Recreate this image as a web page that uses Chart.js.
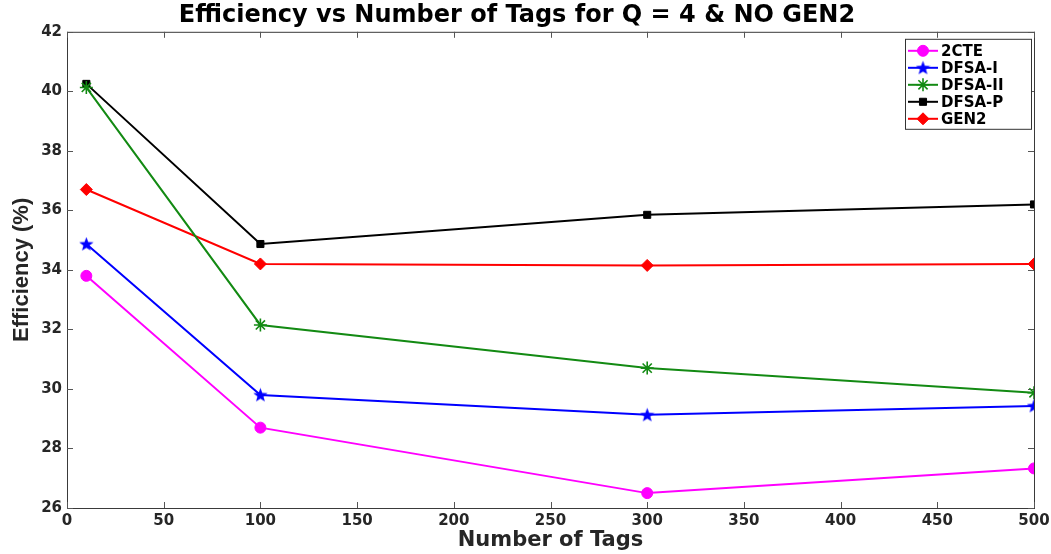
<!DOCTYPE html>
<html>
<head>
<meta charset="utf-8">
<script src="https://cdn.jsdelivr.net/npm/chart.js@4.4.1/dist/chart.umd.min.js"></script>
<style>
  html, body { margin: 0; padding: 0; background: #fff; }
  #wrap { width: 1051px; height: 554px; }
</style>
</head>
<body>
<div id="wrap"><canvas id="c"></canvas></div>
<script>
// data
const tags = [10, 100, 300, 500];
const eff2CTE   = [33.8, 28.7, 26.5, 27.33];
const effDFSA1  = [34.87, 29.8, 29.13, 29.43];
const effDFSA2  = [40.13, 32.15, 30.7, 29.87];
const effDFSAP  = [40.25, 34.87, 35.85, 36.2];
const effGEN2   = [36.7, 34.2, 34.15, 34.2];
const seriesNames = ['2CTE', 'DFSA-I', 'DFSA-II', 'DFSA-P', 'GEN2'];

const FONT = 'DejaVu Sans';

// filled 5-point star marker (MATLAB 'p')
function starImage(size, color) {
  const cv = document.createElement('canvas');
  cv.width = size; cv.height = size;
  const g = cv.getContext('2d');
  const cx = size / 2, cy = size / 2 + 0.5, ro = size / 2, ri = ro * 0.42;
  g.beginPath();
  for (let i = 0; i < 10; i++) {
    const r = i % 2 ? ri : ro;
    const a = -Math.PI / 2 + i * Math.PI / 5;
    g.lineTo(cx + r * Math.cos(a), cy + r * Math.sin(a));
  }
  g.closePath();
  g.fillStyle = color; g.fill();
  return cv;
}

const pts = vals => vals.map((v, i) => ({ x: tags[i], y: v }));

function ds(label, vals, color, style, radius, bw) {
  return {
    label, data: pts(vals),
    borderColor: color, backgroundColor: color,
    borderWidth: 2, pointStyle: style, pointRadius: radius,
    pointBorderColor: color, pointBackgroundColor: color, pointBorderWidth: bw,
    tension: 0,
  };
}

const datasets = [
  ds(seriesNames[0], eff2CTE, '#ff00ff', 'circle', 5.5, 1),
  ds(seriesNames[1], effDFSA1, '#0000ff', starImage(15, '#0000ff'), 7, 1),
  ds(seriesNames[2], effDFSA2, '#138a13', 'star', 6.5, 1.6),
  ds(seriesNames[3], effDFSAP, '#000000', 'rect', 5, 1),
  ds(seriesNames[4], effGEN2, '#ff0000', 'rectRot', 6, 1),
];

// MATLAB-ish box with inward ticks on all four sides
const boxPlugin = {
  id: 'box',
  beforeDatasetsDraw(chart) {
    const { ctx, chartArea: a, scales: { x, y } } = chart;
    ctx.save();
    ctx.strokeStyle = '#3a3a3a';
    ctx.lineWidth = 1;
    ctx.strokeRect(a.left + 0.5, a.top + 0.5, a.right - a.left, a.bottom - a.top);
    ctx.strokeStyle = '#555';
    const L = 6;
    ctx.beginPath();
    x.ticks.forEach(t => {
      const px = Math.round(x.getPixelForValue(t.value)) + 0.5;
      ctx.moveTo(px, a.bottom); ctx.lineTo(px, a.bottom - L);
      ctx.moveTo(px, a.top); ctx.lineTo(px, a.top + L);
    });
    y.ticks.forEach(t => {
      const py = Math.round(y.getPixelForValue(t.value)) + 0.5;
      ctx.moveTo(a.left, py); ctx.lineTo(a.left + L, py);
      ctx.moveTo(a.right, py); ctx.lineTo(a.right - L, py);
    });
    ctx.stroke();
    ctx.restore();
  }
};

// legend box inside the plot, top right
const legendPlugin = {
  id: 'boxLegend',
  afterDraw(chart) {
    const { ctx, chartArea: a } = chart;
    const right = a.right - 3, top = a.top + 7, w = 126, rowH = 17;
    const left = right - w;
    const h = rowH * chart.data.datasets.length + 5;
    ctx.save();
    ctx.fillStyle = '#fff';
    ctx.fillRect(left, top, w, h);
    ctx.strokeStyle = '#333';
    ctx.lineWidth = 1;
    ctx.strokeRect(left + 0.5, top + 0.5, w, h);
    ctx.font = 'bold 15px ' + FONT;
    ctx.textBaseline = 'middle';
    chart.data.datasets.forEach((d, i) => {
      const cy = top + 12 + i * rowH;
      ctx.strokeStyle = d.borderColor;
      ctx.lineWidth = 2;
      ctx.beginPath();
      ctx.moveTo(left + 3, cy); ctx.lineTo(left + 33, cy);
      ctx.stroke();
      ctx.fillStyle = d.pointBackgroundColor;
      ctx.strokeStyle = d.pointBorderColor;
      ctx.lineWidth = d.pointBorderWidth;
      Chart.helpers.drawPoint(ctx, {
        pointStyle: d.pointStyle, radius: d.pointRadius, rotation: 0, borderWidth: d.pointBorderWidth
      }, left + 18, cy);
      ctx.fillStyle = '#000';
      ctx.fillText(d.label, left + 36, cy + 1);
    });
    ctx.restore();
  }
};

new Chart(document.getElementById('c'), {
  type: 'line',
  data: { datasets },
  options: {
    responsive: true,
    maintainAspectRatio: false,
    animation: false,
    layout: { padding: { left: 0, right: 17, top: 0, bottom: 0 } },
    plugins: {
      legend: { display: false },
      tooltip: { enabled: false },
      title: {
        display: true,
        text: 'Efficiency vs Number of Tags for Q = 4 & NO GEN2',
        color: '#000',
        font: { family: FONT, size: 24, weight: 'bold', lineHeight: 1.2 },
        padding: { top: 1, bottom: 2 },
      },
    },
    scales: {
      x: {
        type: 'linear', min: 0, max: 500,
        grid: { display: false, drawTicks: false },
        border: { display: false },
        ticks: { stepSize: 50, color: '#262626', padding: 4,
          font: { family: FONT, size: 15, weight: 'bold' } },
        title: { display: true, text: 'Number of Tags', color: '#262626',
          font: { family: FONT, size: 21, weight: 'bold' }, padding: { top: 0, bottom: 1 } },
        afterFit: s => { s.height = 46; s.paddingLeft = 0; s.paddingRight = 0; },
      },
      y: {
        type: 'linear', min: 26, max: 42,
        grid: { display: false, drawTicks: false },
        border: { display: false },
        ticks: { stepSize: 2, color: '#262626', padding: 5,
          font: { family: FONT, size: 15, weight: 'bold' } },
        title: { display: true, text: 'Efficiency (%)', color: '#262626',
          font: { family: 'Liberation Sans Narrow, Liberation Sans', size: 22, weight: 'bold' },
          padding: { top: 9, bottom: 0 } },
        afterFit: s => { s.width = 67; s.paddingTop = 0; s.paddingBottom = 0; },
      },
    },
  },
  plugins: [boxPlugin, legendPlugin],
});
</script>
</body>
</html>
